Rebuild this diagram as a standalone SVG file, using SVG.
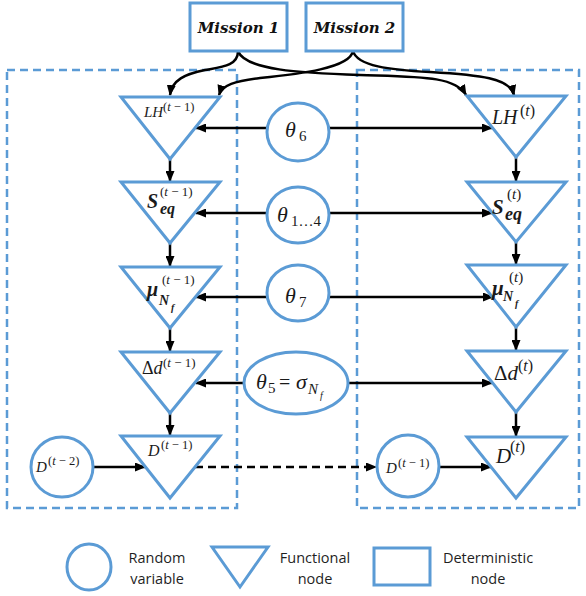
<svg xmlns="http://www.w3.org/2000/svg" width="586" height="596" viewBox="0 0 586 596">
<defs>
<style>
.nd{fill:#fff;stroke:#5B9BD5;stroke-width:3}
.box{fill:none;stroke:#5B9BD5;stroke-width:2.5;stroke-dasharray:8,5}
.ln{fill:none;stroke:#000;stroke-width:2.5;marker-end:url(#ah)}
.dash{stroke-dasharray:8,5}
.m{font-family:"Liberation Serif","Times New Roman",serif;fill:#1a1a1a}
.i{font-style:italic}
.bi{font-style:italic;font-weight:bold}
.ms{font-family:"DejaVu Serif",serif;font-style:italic;font-weight:bold;font-size:15px;fill:#111}
.lg{font-family:"Open Sans","Liberation Sans",sans-serif;font-size:14.5px;fill:#1f1f1f;text-anchor:middle}
</style>
<marker id="ah" markerUnits="userSpaceOnUse" markerWidth="11" markerHeight="9" refX="10" refY="4.5" orient="auto"><path d="M0,0 L11,4.5 L0,9 z" fill="#000"/></marker>
</defs>

<g id="frames">
<rect class="box" x="7" y="70" width="230" height="438"/>
<rect class="box" x="357" y="70" width="222" height="438"/>
</g>

<g id="connectors">
<path class="ln" d="M238,51 C238,66 222,67 205,70 C185,74 172,80 170,95"/>
<path class="ln" d="M238,51 C245,70 300,73 360,75 C420,77 455,76 466,95"/>
<path class="ln" d="M353,51 C350,68 300,74 260,78 C235,81 222,85 219,95"/>
<path class="ln" d="M353,51 C357,66 390,70 430,72 C480,75 510,78 514,95"/>
<line class="ln" x1="170" y1="159" x2="170" y2="181"/>
<line class="ln" x1="170" y1="243" x2="170" y2="266"/>
<line class="ln" x1="170" y1="328" x2="170" y2="351"/>
<line class="ln" x1="170" y1="413" x2="170" y2="435"/>
<line class="ln" x1="516" y1="157" x2="516" y2="181"/>
<line class="ln" x1="516" y1="242" x2="516" y2="264"/>
<line class="ln" x1="516" y1="327" x2="516" y2="350"/>
<line class="ln" x1="516" y1="412" x2="516" y2="436"/>
<line class="ln" x1="267" y1="128" x2="196" y2="128"/>
<line class="ln" x1="329" y1="128" x2="492" y2="128"/>
<line class="ln" x1="267" y1="213" x2="196" y2="213"/>
<line class="ln" x1="329" y1="213" x2="492" y2="213"/>
<line class="ln" x1="267" y1="297" x2="196" y2="297"/>
<line class="ln" x1="329" y1="297" x2="493" y2="297"/>
<line class="ln" x1="244" y1="383" x2="196" y2="383"/>
<line class="ln" x1="348" y1="383" x2="492" y2="383"/>
<line class="ln" x1="92" y1="467" x2="145" y2="467"/>
<line class="ln dash" x1="195" y1="467" x2="376" y2="467"/>
<line class="ln" x1="439" y1="467" x2="491" y2="467"/>
</g>

<g id="mission1">
<rect class="nd" x="190" y="3" width="97" height="48"/>
<text class="ms" x="238.5" y="33" text-anchor="middle">Mission 1</text>
</g>
<g id="mission2">
<rect class="nd" x="306" y="3" width="97" height="48"/>
<text class="ms" x="354.5" y="33" text-anchor="middle">Mission 2</text>
</g>

<g id="LH_tm1">
<polygon class="nd" points="121,97 220,97 170,159"/>
<text class="m"><tspan class="i" x="144" y="117" font-size="15">LH</tspan><tspan x="163" y="111" font-size="12.5">(<tspan class="i">t</tspan> − 1)</tspan></text>
</g>
<g id="Seq_tm1">
<polygon class="nd" points="121,182 220,182 170,243"/>
<text class="m"><tspan class="bi" x="147" y="208" font-size="20">S</tspan><tspan x="160" y="196" font-size="13">(<tspan class="i">t</tspan> − 1)</tspan><tspan class="bi" x="160" y="214" font-size="16">eq</tspan></text>
</g>
<g id="mu_tm1">
<polygon class="nd" points="121,267 220,267 170,328"/>
<text class="m"><tspan class="bi" x="147" y="296" font-size="20">μ</tspan><tspan x="162" y="284" font-size="13">(<tspan class="i">t</tspan> − 1)</tspan><tspan class="bi" x="159" y="305" font-size="14">N</tspan><tspan class="bi" x="171" y="311" font-size="10">f</tspan></text>
</g>
<g id="dd_tm1">
<polygon class="nd" points="121,352 220,352 170,413"/>
<text class="m"><tspan x="142" y="374" font-size="18">Δ<tspan class="i">d</tspan></tspan><tspan x="163" y="367" font-size="13">(<tspan class="i">t</tspan> − 1)</tspan></text>
</g>
<g id="D_tm1">
<polygon class="nd" points="121,436 220,436 170,498"/>
<text class="m"><tspan class="i" x="148" y="456" font-size="16">D</tspan><tspan x="161" y="449" font-size="12.5">(<tspan class="i">t</tspan> − 1)</tspan></text>
</g>
<g id="D_tm2">
<ellipse class="nd" cx="62" cy="467" rx="31" ry="30"/>
<text class="m"><tspan class="i" x="36" y="472" font-size="15">D</tspan><tspan x="48" y="465" font-size="12.5">(<tspan class="i">t</tspan> − 2)</tspan></text>
</g>

<g id="LH_t">
<polygon class="nd" points="467,96 566,96 516,157"/>
<text class="m"><tspan class="i" x="492" y="124" font-size="20">LH</tspan><tspan x="520" y="116" font-size="16">(<tspan class="i">t</tspan>)</tspan></text>
</g>
<g id="Seq_t">
<polygon class="nd" points="467,182 566,182 516,242"/>
<text class="m"><tspan class="bi" x="492" y="214" font-size="21">S</tspan><tspan x="507" y="199" font-size="15">(<tspan class="i">t</tspan>)</tspan><tspan class="bi" x="505" y="220" font-size="18">eq</tspan></text>
</g>
<g id="mu_t">
<polygon class="nd" points="467,265 566,265 516,327"/>
<text class="m"><tspan class="bi" x="492" y="295" font-size="21">μ</tspan><tspan x="509" y="282" font-size="15">(<tspan class="i">t</tspan>)</tspan><tspan class="bi" x="503" y="301" font-size="14">N</tspan><tspan class="bi" x="515" y="307" font-size="10">f</tspan></text>
</g>
<g id="dd_t">
<polygon class="nd" points="467,351 566,351 516,412"/>
<text class="m"><tspan x="494" y="380" font-size="21">Δ<tspan class="i">d</tspan></tspan><tspan x="518" y="371" font-size="16">(<tspan class="i">t</tspan>)</tspan></text>
</g>
<g id="D_t">
<polygon class="nd" points="467,437 566,437 516,498"/>
<text class="m"><tspan class="i" x="496" y="463" font-size="21">D</tspan><tspan x="510" y="452" font-size="16">(<tspan class="i">t</tspan>)</tspan></text>
</g>
<g id="D_tm1_right">
<ellipse class="nd" cx="408" cy="466" rx="31" ry="31"/>
<text class="m"><tspan class="i" x="386" y="473" font-size="15">D</tspan><tspan x="398" y="467" font-size="12.5">(<tspan class="i">t</tspan> − 1)</tspan></text>
</g>

<g id="theta6">
<ellipse class="nd" cx="298" cy="132" rx="31" ry="29"/>
<text class="m"><tspan class="i" x="285" y="137" font-size="22">θ</tspan><tspan x="299" y="141" font-size="15">6</tspan></text>
</g>
<g id="theta1_4">
<ellipse class="nd" cx="298" cy="215" rx="31" ry="28"/>
<text class="m"><tspan class="i" x="277" y="222" font-size="22">θ</tspan><tspan x="291" y="226" font-size="15">1…4</tspan></text>
</g>
<g id="theta7">
<ellipse class="nd" cx="298" cy="293" rx="31" ry="28"/>
<text class="m"><tspan class="i" x="285" y="303" font-size="22">θ</tspan><tspan x="299" y="307" font-size="15">7</tspan></text>
</g>
<g id="theta5">
<ellipse class="nd" cx="296" cy="383" rx="52" ry="31"/>
<text class="m"><tspan class="i" x="256" y="389" font-size="22">θ</tspan><tspan x="268" y="393" font-size="15">5</tspan><tspan x="279" y="389" font-size="20">=</tspan><tspan class="i" x="296" y="389" font-size="22">σ</tspan><tspan class="i" x="308" y="394" font-size="15">N</tspan><tspan class="i" x="320" y="399" font-size="10">f</tspan></text>
</g>

<g id="legend">
<ellipse class="nd" cx="89" cy="567" rx="22" ry="23"/>
<text class="lg" x="157" y="563">Random</text>
<text class="lg" x="157" y="584">variable</text>
<polygon class="nd" points="212,547 268,547 240,587"/>
<text class="lg" x="315" y="563">Functional</text>
<text class="lg" x="315" y="584">node</text>
<rect class="nd" x="374" y="548" width="56" height="37"/>
<text class="lg" x="488" y="563">Deterministic</text>
<text class="lg" x="488" y="584">node</text>
</g>
</svg>
